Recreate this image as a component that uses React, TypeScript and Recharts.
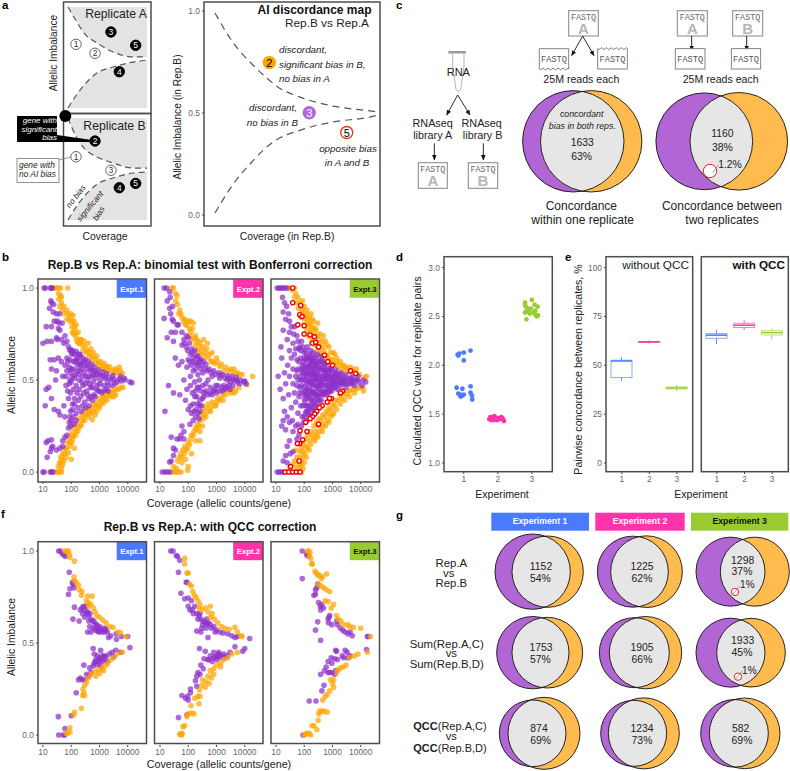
import React from 'react';
import { ScatterChart, Scatter, ComposedChart, Area, Line, Bar, XAxis, YAxis, ReferenceDot } from 'recharts';

const FONT = '"Liberation Sans", Arial, sans-serif';
const PURPLE = '#8E2FC9';
const ORANGE = '#FFA500';
const EXPT_COLORS = ['#4A7BFF', '#FF33AA', '#99CC33'];
const EXPT_LABELS = ['Expt.1', 'Expt.2', 'Expt.3'];
const COVERAGE_TICKS = [10, 100, 1000, 10000];
const IMBALANCE_TICKS = [0, 0.5, 1];

type Pt = number[];

// panel b, coverage / imbalance
const b1Purple: Pt[] = [[11,1],[12,1],[18,1],[20,1],[21,1],[19,.93],[20,.92],[17,.89],[24,.91],[23,.87],[30,.86],[38,.86],[32,.82],[25,.82],[37,.81],[48,.81],[13,.79],[20,.79],[35,.78],[40,.77],[60,.74],[30,.73],[20,.71],[10,.7],[14,.71],[32,.72],[45,.72],[55,.7],[70,.71],[80,.68],[95,.665],[115,.66],[150,.655],[180,.64],[210,.63],[260,.62],[320,.61],[400,.6],[520,.585],[650,.57],[900,.555],[1300,.545],[1800,.535],[3000,.525],[5500,.52],[7500,.51],[14000,.485],[12000,.49],[8000,.5],[6000,.495],[5000,.505],[3500,.48],[2600,.5],[2000,.47],[1500,.52],[1100,.5],[800,.53],[600,.49],[450,.55],[330,.52],[240,.56],[170,.58],[120,.6],[90,.61],[70,.62],[60,.58],[100,.56],[140,.53],[190,.5],[260,.47],[350,.44],[480,.46],[640,.42],[900,.44],[1200,.43],[1700,.45],[850,.47],[600,.53],[400,.58],[280,.6],[200,.55],[110,.52],[85,.48],[120,.45],[160,.43],[220,.41],[300,.38],[420,.4],[560,.39],[130,.4],[110,.37],[170,.35],[230,.33],[150,.32],[120,.3],[95,.33],[80,.4],[75,.44],[65,.47],[90,.5],[70,.55],[50,.52],[45,.6],[35,.62],[30,.55],[25,.61],[18,.61],[20,.56],[28,.5],[13,.45],[16,.46],[20,.4],[12,.36],[25,.34],[35,.33],[40,.31],[55,.36],[60,.3],[85,.27],[100,.28],[80,.24],[70,.2],[60,.19],[50,.17],[15,.17],[20,.175],[13,.16],[22,.14],[20,.13],[18,.11],[30,.12],[40,.13],[50,.14],[14,.08],[10,0],[11,0],[18,0],[20,0],[22,0],
  [90,.66],[130,.64],[160,.62],[190,.6],[230,.59],[300,.58],[350,.565],[500,.56],[600,.55],[750,.545],[1000,.53],[1200,.525],[1600,.51],[2200,.515],[3200,.505],[4200,.49],[2800,.47],[1900,.49],[1400,.47],[1000,.48],[750,.51],[520,.52],[380,.5],[290,.54],[210,.58],[150,.61],[105,.64],[75,.6],[120,.56],[160,.55],[250,.52],[320,.48],[440,.48],[560,.46],[760,.45],[1000,.44],[1400,.44],[2000,.44],[700,.41],[500,.41],[380,.42],[270,.43],[190,.45],[150,.47],[100,.49],[130,.51],[180,.53],[240,.49],[95,.43],[130,.37],[180,.39],[250,.36],[330,.35],[420,.36],[90,.3],[110,.34],[150,.28],[125,.26],[95,.25],[110,.65],[140,.6],[85,.57],[65,.52],[95,.54],[200,.64],[420,.52]];
const b1Orange: Pt[] = [[22,1],[26,1],[30,1],[36,1],[42,1],[75,1],[35,.97],[42,.96],[36,.94],[45,.92],[40,.9],[48,.88],[55,.86],[75,.86],[95,.86],[115,.85],[70,.83],[90,.82],[125,.82],[150,.8],[105,.79],[135,.77],[175,.76],[120,.75],[150,.73],[210,.72],[290,.71],[180,.7],[240,.69],[400,.7],[500,.67],[260,.66],[340,.65],[620,.65],[430,.63],[800,.63],[560,.61],[1100,.6],[760,.59],[1500,.59],[1000,.575],[1700,.565],[2300,.57],[3600,.56],[5000,.57],[2800,.55],[4500,.54],[6500,.535],[6800,.46],[4800,.45],[3300,.445],[2300,.44],[3800,.42],[1800,.425],[2500,.41],[1400,.41],[1800,.39],[1000,.4],[1400,.375],[800,.38],[1000,.35],[620,.365],[800,.33],[480,.345],[700,.31],[560,.285],[380,.32],[300,.335],[420,.3],[240,.31],[300,.28],[180,.29],[230,.26],[150,.26],[180,.24],[120,.24],[145,.22],[100,.21],[120,.195],[88,.185],[105,.16],[75,.16],[90,.14],[130,.13],[60,.125],[80,.105],[100,.07],[50,.1],[65,.08],[42,.08],[55,.06],[38,.05],[50,.04],[35,.03],[45,.02],[25,0],[30,0],[35,0],[40,0],[45,0],
  [45,.95],[55,.9],[70,.88],[85,.84],[110,.82],[130,.79],[110,.76],[140,.75],[160,.71],[200,.7],[230,.72],[310,.68],[380,.66],[460,.65],[520,.63],[680,.62],[900,.6],[1250,.58],[1900,.575],[1350,.56],[2000,.55],[3200,.54],[3900,.55],[5400,.55],[5500,.46],[4000,.45],[2900,.43],[3200,.41],[2200,.42],[1600,.4],[1250,.39],[1100,.37],[880,.36],[700,.35],[600,.33],[520,.32],[440,.33],[350,.31],[280,.3],[240,.28],[210,.25],[170,.22],[140,.2],[110,.18],[90,.16],[68,.13],[58,.1],[48,.07],[42,.05]];

const b2Purple: Pt[] = [[14,1],[17,1],[22,.98],[23,.95],[18,.93],[22,.89],[28,.9],[24,.86],[27,.83],[14,.835],[30,.82],[40,.8],[45,.8],[25,.76],[35,.76],[18,.73],[30,.71],[60,.76],[70,.72],[85,.74],[100,.73],[110,.7],[60,.69],[85,.68],[130,.67],[170,.66],[120,.64],[220,.63],[280,.61],[100,.61],[160,.6],[350,.6],[220,.58],[420,.585],[550,.56],[800,.55],[1200,.54],[1600,.53],[2400,.525],[3500,.52],[5000,.515],[7000,.5],[9500,.49],[11000,.48],[10000,.495],[6500,.48],[4800,.5],[3200,.49],[2400,.5],[1800,.47],[1300,.51],[950,.47],[700,.52],[500,.5],[330,.54],[220,.53],[150,.55],[120,.52],[90,.57],[60,.6],[45,.58],[35,.62],[170,.49],[240,.46],[330,.47],[420,.44],[600,.43],[850,.45],[1200,.44],[1600,.44],[2300,.46],[3000,.45],[180,.44],[140,.43],[120,.47],[90,.45],[70,.5],[200,.41],[260,.39],[350,.41],[300,.36],[210,.37],[260,.33],[190,.34],[150,.37],[130,.32],[180,.3],[100,.34],[80,.39],[50,.42],[30,.43],[20,.47],[15,.33],[60,.25],[70,.22],[55,.2],[50,.18],[25,.19],[40,.18],[70,.18],[30,.13],[35,.12],[30,.09],[25,.06],[22,.055],[12,0],[15,0],[18,0],[22,0],
  [75,.7],[95,.66],[140,.65],[190,.63],[150,.62],[250,.6],[190,.59],[300,.58],[400,.56],[480,.55],[650,.54],[950,.53],[1400,.525],[2000,.51],[2800,.51],[4000,.5],[5500,.49],[3800,.47],[2700,.47],[2000,.45],[1500,.46],[1100,.47],[800,.44],[600,.46],[420,.48],[280,.44],[250,.5],[380,.43],[500,.42],[700,.42],[1000,.43],[280,.56],[180,.56],[130,.58],[115,.6],[240,.61],[320,.4],[250,.36],[220,.32],[160,.33],[120,.36],[170,.41],[210,.46],[240,.29],[150,.28],[115,.26]];
const b2Orange: Pt[] = [[26,1],[30,1],[35,.97],[40,.96],[36,.93],[42,.91],[50,.88],[46,.86],[60,.84],[75,.83],[100,.82],[120,.82],[150,.81],[80,.8],[110,.78],[140,.78],[180,.74],[110,.74],[140,.72],[220,.71],[350,.72],[180,.69],[240,.68],[480,.7],[300,.66],[450,.67],[700,.65],[380,.63],[580,.64],[1000,.62],[750,.6],[1100,.6],[1500,.585],[2100,.57],[3200,.56],[4200,.56],[5500,.54],[8000,.53],[19000,.52],[12000,.475],[6200,.46],[4800,.44],[3200,.43],[4200,.43],[2100,.42],[1500,.41],[1100,.4],[1700,.39],[700,.38],[950,.36],[500,.37],[400,.35],[620,.33],[320,.33],[270,.31],[420,.3],[260,.28],[210,.26],[320,.25],[180,.24],[160,.22],[260,.22],[130,.2],[120,.18],[260,.17],[180,.17],[100,.16],[75,.14],[95,.13],[65,.12],[130,.1],[55,.1],[48,.08],[80,.07],[42,.06],[60,.05],[100,.03],[30,.03],[38,.02],[26,0],[32,0],[38,0],[45,0],[55,0],[95,.01],
  [55,.86],[68,.82],[90,.8],[125,.76],[160,.73],[200,.72],[260,.7],[210,.66],[280,.64],[340,.68],[420,.65],[520,.62],[640,.6],[860,.59],[1300,.575],[1800,.55],[2700,.55],[4000,.54],[6500,.53],[3700,.45],[2700,.44],[1800,.43],[1300,.39],[1000,.38],[820,.36],[600,.35],[480,.33],[380,.31],[330,.29],[240,.25],[200,.23],[150,.2],[110,.15],[85,.12],[72,.1],[58,.08]];

const b3Purple: Pt[] = [[11,1],[13,1],[15,1],[17,1],[20,1],[24,1],[17,.95],[20,.92],[24,.9],[18,.87],[28,.86],[22,.83],[30,.82],[35,.79],[45,.79],[18,.77],[30,.76],[42,.75],[55,.74],[25,.72],[40,.7],[60,.71],[80,.71],[15,.68],[30,.66],[50,.67],[70,.68],[90,.68],[110,.66],[130,.68],[170,.66],[210,.65],[280,.64],[350,.63],[440,.61],[600,.59],[850,.565],[1300,.555],[2000,.54],[3000,.53],[5000,.52],[8000,.52],[12000,.5],[15000,.49],[11000,.47],[8500,.49],[6500,.5],[6000,.47],[4800,.5],[4000,.48],[3200,.51],[3000,.46],[2400,.52],[2300,.49],[1900,.47],[1800,.53],[1500,.45],[1400,.5],[1300,.54],[1100,.47],[1000,.52],[950,.44],[850,.5],[800,.55],[700,.46],[650,.53],[600,.42],[550,.49],[520,.57],[450,.44],[430,.52],[400,.6],[370,.47],[340,.55],[320,.41],[300,.5],[280,.58],[270,.44],[250,.62],[240,.47],[230,.53],[210,.39],[200,.56],[190,.43],[180,.6],[170,.49],[160,.36],[150,.64],[150,.53],[140,.41],[130,.57],[125,.45],[120,.33],[115,.61],[110,.5],[105,.38],[100,.65],[95,.54],[90,.43],[85,.3],[85,.58],[80,.47],[75,.36],[75,.62],[70,.52],[65,.41],[65,.67],[60,.56],[60,.32],[55,.47],[55,.61],[50,.38],[50,.52],[45,.43],[45,.64],[40,.56],[40,.48],[35,.35],[35,.62],[30,.52],[28,.42],[26,.58],[22,.48],[20,.54],[18,.4],[16,.62],[14,.45],[12,.52],[20,.33],[25,.3],[18,.28],[30,.27],[38,.28],[22,.23],[16,.25],[40,.22],[50,.25],[60,.26],[65,.2],[55,.18],[30,.17],[25,.14],[40,.11],[32,.1],[22,.09],[18,.06],[25,.05],[11,0],[13,0],[15,0],[18,0],[500,.47],[700,.5],[900,.48],[1200,.52],[1600,.48],[2100,.51],[350,.49],[260,.5],[180,.54],[125,.52],[90,.5],[130,.4],[170,.44],[220,.43],[280,.4],[380,.43],[520,.43],[720,.43],[1000,.46],[1300,.46],[200,.6],[270,.56],[380,.56],[520,.54],[750,.52],[1000,.54],[160,.58],[110,.56],[85,.54],[70,.46],[110,.42],[150,.46],[200,.47],[300,.46],[450,.5],[600,.52],[130,.36],[170,.39],[230,.37],[300,.38],[400,.39],[100,.46],[140,.49],[210,.51],[280,.53],[360,.6],[480,.59],[640,.56],[900,.56],[1500,.53],[2600,.5],[3600,.5],[5400,.49],[7500,.5],[120,.63],[160,.62],[220,.62],[300,.6],[95,.6],[80,.56],[60,.5],[70,.43],[90,.36],[110,.32],[140,.31],[180,.34],[240,.33],
  [75,.5],[100,.52],[120,.48],[135,.54],[155,.5],[175,.52],[195,.48],[215,.54],[240,.5],[265,.52],[290,.47],[320,.53],[350,.51],[390,.49],[420,.47],[470,.52],[510,.55],[570,.51],[620,.47],[680,.55],[760,.48],[820,.46],[880,.52],[950,.5],[1050,.49],[1150,.5],[1250,.48],[1350,.52],[1600,.51],[1750,.49],[2000,.5],[2200,.48],[2700,.48],[3400,.48],[4400,.51],[5000,.48],[90,.56],[105,.58],[120,.54],[140,.57],[165,.55],[190,.58],[225,.56],[260,.59],[320,.57],[420,.57],[580,.55],[105,.44],[120,.42],[140,.44],[160,.42],[185,.4],[205,.44],[240,.42],[260,.42],[300,.42],[350,.45],[420,.42],[480,.42],[560,.44],[650,.44],[800,.44],[880,.45],[1200,.48],[100,.4],[115,.36],[150,.34],[190,.37],[210,.35],[260,.36],[340,.39],[130,.33],[160,.31],[200,.31],[100,.3],[120,.28],[95,.27],[80,.25],[150,.6],[135,.62],[180,.63],[210,.6],[250,.58],[75,.66],[100,.62],[65,.6],[55,.55]];
const b3Orange: Pt[] = [[26,1],[30,1],[36,.99],[45,1],[50,.97],[60,.95],[45,.95],[55,.92],[85,.93],[62,.89],[90,.88],[120,.86],[175,.86],[75,.84],[105,.83],[130,.83],[210,.82],[95,.8],[150,.81],[300,.81],[125,.77],[190,.79],[240,.78],[140,.74],[210,.75],[360,.75],[480,.74],[180,.71],[340,.72],[560,.71],[240,.69],[420,.68],[750,.68],[300,.66],[500,.66],[1100,.65],[430,.63],[700,.62],[1400,.62],[620,.6],[1000,.61],[1900,.6],[850,.585],[1300,.58],[2500,.58],[1700,.565],[3200,.565],[2400,.555],[5000,.56],[7000,.56],[3800,.545],[6000,.545],[9000,.53],[16000,.52],[14000,.515],[12000,.46],[12500,.44],[7500,.455],[5000,.45],[3500,.44],[6000,.43],[2600,.43],[4000,.41],[1800,.42],[2700,.39],[1300,.39],[1900,.37],[1000,.37],[1400,.34],[750,.35],[1100,.32],[600,.33],[850,.3],[450,.31],[650,.28],[340,.29],[500,.26],[270,.27],[420,.24],[220,.25],[340,.22],[170,.22],[270,.2],[135,.2],[210,.18],[110,.18],[170,.15],[95,.15],[130,.13],[80,.13],[105,.1],[70,.11],[50,.12],[90,.08],[55,.08],[80,.05],[45,.06],[65,.04],[40,.04],[90,.02],[55,.02],[30,.02],[35,0],[60,0],[80,0],
  [72,.92],[100,.9],[80,.87],[125,.88],[105,.85],[155,.84],[190,.83],[115,.8],[170,.78],[140,.8],[165,.76],[260,.77],[190,.73],[290,.74],[230,.71],[440,.71],[280,.69],[330,.7],[620,.69],[380,.65],[540,.64],[850,.65],[640,.63],[1200,.64],[850,.61],[1500,.6],[1100,.59],[2000,.58],[2900,.57],[4200,.57],[9000,.46],[6200,.45],[4200,.44],[3000,.42],[2100,.4],[1600,.39],[1200,.36],[880,.34],[700,.32],[1000,.31],[540,.3],[740,.27],[390,.28],[560,.25],[310,.25],[440,.22],[250,.22],[300,.19],[190,.2],[240,.17],[150,.17],[120,.14],[150,.12],[90,.11],[120,.08],[70,.08],[75,.03],[100,.05]];
const b3Red: Pt[] = [[39,1],[39,.92],[75,.905],[69,.855],[84,.845],[59,.8],[99,.795],[99,.75],[161,.745],[229,.735],[195,.7],[255,.705],[320,.68],[520,.635],[682,.6],[1000,.58],[4360,.55],[6600,.535],[2260,.44],[1920,.43],[920,.4],[780,.4],[650,.38],[430,.36],[345,.35],[278,.33],[236,.315],[195,.3],[161,.29],[113,.27],[320,.26],[125,.22],[71,.225],[88,.175],[69,.155],[57,.155],[66,.06],[33,.03],[21,0],[28,0],[39,0],[52,0],[71,0]];

// panel f
const f1Purple: Pt[] = [[36,1],[42,1],[48,.985],[55,.98],[62,.97],[85,.885],[110,.83],[115,.82],[125,.8],[90,.795],[80,.765],[130,.695],[115,.63],[190,.62],[210,.68],[240,.69],[270,.7],[300,.68],[340,.66],[400,.65],[300,.64],[420,.62],[500,.63],[640,.62],[800,.6],[1000,.59],[1300,.58],[1600,.57],[1900,.56],[2500,.54],[1200,.56],[850,.565],[600,.58],[450,.59],[380,.56],[500,.56],[2100,.53],[3900,.55],[4000,.52],[6000,.535],[10000,.535],[600,.47],[1100,.46],[650,.44],[850,.43],[1300,.43],[1700,.425],[2200,.44],[2800,.45],[3800,.46],[3200,.425],[5500,.45],[12000,.475],[1000,.41],[1400,.41],[1900,.4],[700,.4],[850,.385],[1100,.375],[600,.375],[450,.365],[500,.34],[280,.38],[350,.33],[420,.32],[210,.31],[240,.3],[180,.3],[300,.3],[35,.1],[100,.105],[60,.035],[36,0],[52,0],[58,0],[150,.23],
  [250,.66],[330,.7],[380,.67],[460,.66],[560,.62],[700,.6],[900,.58],[1100,.57],[1500,.56],[1700,.58],[720,.57],[950,.56],[1000,.42],[1500,.43],[1250,.4],[750,.41],[950,.4],[650,.39]];
const f1Orange: Pt[] = [[60,1],[70,1],[80,1],[85,.98],[90,.965],[130,.945],[125,.86],[130,.84],[150,.83],[180,.815],[190,.79],[240,.78],[230,.76],[380,.755],[550,.755],[340,.73],[400,.72],[420,.7],[500,.71],[620,.69],[700,.67],[800,.65],[1000,.64],[1300,.625],[1700,.61],[2300,.59],[3000,.585],[4500,.56],[5500,.555],[9000,.535],[6500,.45],[4200,.44],[3000,.42],[2400,.405],[1900,.385],[1500,.375],[1200,.36],[900,.355],[1400,.35],[700,.345],[1000,.335],[500,.33],[750,.32],[400,.31],[350,.285],[300,.27],[260,.25],[280,.23],[250,.215],[300,.215],[230,.145],[130,.125],[125,.11],[90,.04],[90,.015],[75,.01],[65,.01]];
const f2Purple: Pt[] = [[24,1],[29,1],[38,.975],[42,.97],[50,.95],[45,.885],[85,.83],[90,.83],[55,.77],[75,.74],[100,.745],[130,.73],[100,.7],[115,.68],[140,.68],[170,.7],[200,.66],[240,.65],[280,.63],[340,.62],[400,.61],[470,.6],[600,.6],[800,.59],[1000,.57],[1300,.56],[1700,.555],[2500,.55],[3500,.54],[4500,.53],[5500,.535],[15000,.525],[300,.58],[280,.56],[200,.565],[500,.53],[250,.47],[400,.455],[800,.45],[1200,.44],[1800,.44],[3000,.45],[4500,.48],[10000,.47],[8500,.455],[600,.43],[900,.425],[1300,.42],[1900,.42],[2400,.43],[700,.4],[480,.41],[360,.415],[280,.38],[340,.36],[220,.34],[200,.32],[260,.33],[180,.295],[200,.265],[120,.25],[120,.23],[95,.21],[60,.215],[80,.2],[100,.19],[45,.095],[90,.11],
  [150,.66],[220,.63],[260,.66],[320,.6],[450,.63],[520,.61],[650,.58],[420,.58],[900,.56],[1050,.43],[1500,.43],[1000,.41],[550,.41],[800,.42],[1200,.45]];
const f2Orange: Pt[] = [[75,.96],[75,.93],[90,.88],[100,.88],[110,.82],[130,.81],[145,.78],[165,.76],[190,.75],[220,.73],[260,.71],[240,.69],[300,.68],[400,.69],[600,.7],[500,.67],[700,.66],[620,.64],[850,.63],[1100,.61],[1500,.59],[2000,.58],[2800,.575],[4500,.585],[5500,.56],[7500,.54],[8000,.535],[5500,.45],[3500,.44],[2500,.42],[1800,.41],[1400,.39],[1000,.38],[1400,.37],[800,.36],[600,.35],[800,.33],[500,.32],[650,.31],[320,.3],[420,.29],[550,.28],[300,.27],[400,.26],[250,.245],[220,.21],[260,.21],[170,.2],[240,.17],[125,.16],[130,.12],[100,.115],[160,.115],[90,.1],[75,.05],[65,.045],[60,.01],[55,.005],[50,.005],[60,0]];
const f3Purple: Pt[] = [[85,1],[125,.985],[125,.975],[140,.98],[85,.85],[300,.82],[280,.8],[250,.79],[220,.76],[250,.765],[320,.72],[370,.7],[420,.71],[480,.69],[380,.68],[300,.615],[800,.65],[750,.64],[720,.61],[950,.6],[1400,.62],[1500,.6],[1900,.58],[2300,.57],[2800,.56],[3500,.55],[4200,.56],[5000,.54],[17000,.535],[18500,.535],[250,.57],[380,.515],[700,.63],[1300,.46],[1400,.455],[2800,.46],[3300,.45],[2200,.43],[2500,.42],[900,.42],[1200,.415],[1500,.41],[700,.4],[950,.39],[600,.37],[520,.35],[700,.34],[800,.34],[1000,.34],[1200,.33],[1300,.35],[380,.33],[500,.27],[420,.24],[260,.185],[150,.185],[90,0],[3500,.42],[4200,.43],[16000,.465]];
const f3Orange: Pt[] = [[130,1],[145,1],[160,.99],[150,.97],[170,.96],[185,.93],[190,.93],[240,.89],[270,.88],[300,.87],[330,.87],[620,.875],[400,.85],[450,.86],[310,.82],[400,.81],[480,.8],[600,.79],[800,.78],[700,.725],[550,.73],[1100,.71],[900,.69],[1400,.65],[1600,.63],[2000,.62],[2400,.6],[3500,.6],[4000,.59],[5500,.585],[10000,.58],[22000,.535],[17000,.45],[8000,.44],[6000,.43],[4000,.42],[3000,.38],[2400,.37],[1900,.365],[1600,.355],[1400,.34],[1100,.3],[1000,.28],[1100,.26],[850,.3],[800,.24],[650,.22],[550,.21],[450,.19],[350,.13],[330,.115],[420,.13],[500,.13],[650,.125],[310,.08],[220,.05],[190,.05],[280,.03],[150,.01],[115,.005],[125,.01],[100,0],[170,0]];

// panel d, jittered experiment position / QCC value
const dBlue: Pt[] = [[.84,2.1],[.87,2.12],[.82,2.11],[1,2.13],[1.2,2.15],[1,2.05],[.79,1.77],[.96,1.76],[1.2,1.785],[.84,1.71],[.91,1.69],[1,1.7],[.96,1.69],[.91,1.68],[1.2,1.72],[1.24,1.69],[1.25,1.65],[.89,1.7]];
const dPink: Pt[] = [[1.75,1.45],[1.78,1.47],[1.8,1.44],[1.84,1.46],[1.87,1.44],[1.9,1.47],[1.92,1.45],[1.9,1.48],[1.95,1.46],[1.98,1.44],[2,1.45],[2.03,1.46],[2.08,1.45],[2.1,1.47],[2.13,1.46],[2.15,1.45],[2.18,1.43],[1.97,1.46]];
const dGreen: Pt[] = [[2.8,2.64],[2.8,2.62],[2.8,2.54],[2.82,2.6],[2.84,2.47],[2.86,2.56],[2.9,2.55],[2.94,2.53],[3,2.67],[3.05,2.54],[3.08,2.62],[3.1,2.56],[3.1,2.52],[3.14,2.5],[3.17,2.6],[3.18,2.51],[2.97,2.58],[2.88,2.58]];

// panel e, box statistics per experiment
const boxExperiments = ['1', '2', '3'];
const withoutQ1 = [43.7, 61.7, 37.9];
const withoutMedian = [52.2, 62, 38.4];
const withoutQ3 = [52.6, 62.2, 38.9];
const withoutLow = [42, 61.1, 36.7];
const withoutHigh = [54.3, 62.8, 39.8];
const withQ1 = [63.8, 69.3, 65.5];
const withMedian = [65.4, 70.5, 66.7];
const withQ3 = [66.2, 71.5, 67.7];
const withLow = [60.9, 68, 63.1];
const withHigh = [68.3, 73, 68.8];

// panel a curves
const schemeX = [.057, .15, .25, .386, .568, .795, .955];
const topUpper = [.955, .83, .71, .631, .55, .505, .505];
const topLower = [.045, .16, .26, .36, .414, .459, .477];
const bottomUpper = [.956, .79, .68, .611, .558, .513, .513];
const bottomLower = [.053, .17, .27, .37, .425, .469, .478];
const mapX = [.0625, .165, .278, .358, .415, .545, .733, .943, .99];
const mapUpper = [.99, .845, .735, .67, .63, .578, .534, .51, .505];
const mapLower = [.01, .15, .265, .335, .37, .415, .456, .48, .49];

// x, y, label, filled
const topMarkers: any[][] = [[.148, .619, '1', false], [.364, .538, '2', false], [.545, .73, '3', true], [.826, .61, '5', true], [.64, .372, '4', true]];
const bottomMarkers: any[][] = [[.364, .752, '2', true], [.148, .613, '1', false], [.545, .493, '3', false], [.64, .339, '4', true], [.826, .377, '5', true]];
const mapMarkers: any[][] = [[.371, .747, '2', ORANGE, ORANGE, '#000'], [.598, .501, '3', '#B266DD', '#B266DD', '#fff'], [.811, .404, '5', '#fff', '#F03A17', '#000']];

const toPts = (a: Pt[]) => a.map(([x, y]) => ({ x, y }));

const tickStyle = { fontSize: 8.4, fill: '#666', fontFamily: FONT };
const Box = ({ left, top, width, height, children }: any) => (
  <div style={{ position: 'absolute', left, top, width, height }}>{children}</div>
);

const dot = (r: number, fill: string, opacity: number, stroke?: string) => (p: any) => (
  <circle cx={p.cx} cy={p.cy} r={r} fill={fill} fillOpacity={opacity} stroke={stroke} strokeWidth={stroke ? 1.4 : 0} />
);

const CoveragePanel = ({ left, top, showY, series }: any) => {
  const yw = showY ? 30 : 0;
  return (
    <Box left={left - yw} top={top} width={108.5 + yw} height={225}>
      <ScatterChart width={108.5 + yw} height={225} margin={{ top: 0, right: 0, bottom: 0, left: 0 }}>
        <XAxis dataKey="x" type="number" scale="log" domain={[6.66, 46100]} allowDataOverflow ticks={COVERAGE_TICKS} interval={0}
          tick={tickStyle} tickSize={2} tickMargin={2} height={22} stroke="#444" axisLine={false} />
        <YAxis dataKey="y" type="number" domain={[-0.054, 1.049]} ticks={IMBALANCE_TICKS} interval={0} hide={!showY} width={yw}
          tickFormatter={(v: number) => v.toFixed(1)} tick={tickStyle} tickSize={2} tickMargin={2} stroke="#444" axisLine={false} />
        {series.map((s: any, i: number) => (
          <Scatter key={i} data={toPts(s.data)} fill={s.fill} shape={s.stroke ? dot(2.1, s.fill, 1, s.stroke) : dot(2.8, s.fill, 0.72)} isAnimationActive={false} />
        ))}
      </ScatterChart>
    </Box>
  );
};

const NumberDot = (props: any, label: string, r: number, fill: string, stroke: string, color: string, size: number, sw = 1) => (
  <g>
    <circle cx={props.cx} cy={props.cy} r={r} fill={fill} stroke={stroke} strokeWidth={sw} />
    <text x={props.cx} y={props.cy + size * 0.36} textAnchor="middle" fontSize={size} fontFamily={FONT} fill={color}>{label}</text>
  </g>
);

const Scheme = ({ left, top, width, height, upper, lower, markers }: any) => {
  const data = schemeX.map((x, i) => ({ x, upper: upper[i], lower: lower[i], top: upper[0], bottom: lower[0] }));
  return (
    <Box left={left} top={top} width={width} height={height}>
      <ComposedChart width={width} height={height} data={data} margin={{ top: 0, right: 0, bottom: 0, left: 0 }}>
        <XAxis dataKey="x" type="number" domain={[0, 1]} hide />
        <YAxis type="number" domain={[0, 1]} hide />
        <Area dataKey={(d: any) => [d.upper, d.top]} type="monotone" fill="#E3E3E3" fillOpacity={1} stroke="none" isAnimationActive={false} />
        <Area dataKey={(d: any) => [d.bottom, d.lower]} type="monotone" fill="#E3E3E3" fillOpacity={1} stroke="none" isAnimationActive={false} />
        <Line dataKey="upper" type="monotone" stroke="#555" strokeWidth={1.2} strokeDasharray="6 4" dot={false} isAnimationActive={false} />
        <Line dataKey="lower" type="monotone" stroke="#555" strokeWidth={1.2} strokeDasharray="6 4" dot={false} isAnimationActive={false} />
        {markers.map((m: any[], i: number) => (
          <ReferenceDot key={i} x={m[0]} y={m[1]} ifOverflow="visible"
            shape={(p: any) => NumberDot(p, m[2], 5.2, m[3] ? '#000' : '#fff', m[3] ? '#000' : '#666', m[3] ? '#fff' : '#333', 8.5)} />
        ))}
      </ComposedChart>
    </Box>
  );
};

const DiscordanceMap = () => {
  const data = mapX.map((x, i) => ({ x, upper: mapUpper[i], lower: mapLower[i] }));
  return (
    <Box left={174} top={2} width={206} height={245}>
      <ComposedChart width={206} height={245} data={data} margin={{ top: 0, right: 0, bottom: 0, left: 0 }}>
        <XAxis dataKey="x" type="number" domain={[0, 1]} ticks={[]} height={21} axisLine={false} tickLine={false} />
        <YAxis type="number" domain={[-0.054, 1.044]} ticks={[0, 0.5, 1]} interval={0} width={30} tickFormatter={(v: number) => v.toFixed(1)}
          tick={tickStyle} tickSize={2} tickMargin={2} stroke="#444" axisLine={false} />
        <Line dataKey="upper" type="monotone" stroke="#555" strokeWidth={1.2} strokeDasharray="7 5" dot={false} isAnimationActive={false} />
        <Line dataKey="lower" type="monotone" stroke="#555" strokeWidth={1.2} strokeDasharray="7 5" dot={false} isAnimationActive={false} />
        {mapMarkers.map((m: any[], i: number) => (
          <ReferenceDot key={i} x={m[0]} y={m[1]} ifOverflow="visible"
            shape={(p: any) => NumberDot(p, m[2], 6, m[3], m[4], m[5], 11, 1.4)} />
        ))}
      </ComposedChart>
    </Box>
  );
};

const QccPanel = () => (
  <Box left={414} top={256.7} width={138.3} height={237}>
    <ScatterChart width={138.3} height={237} margin={{ top: 0, right: 0, bottom: 0, left: 0 }}>
      <XAxis dataKey="x" type="number" domain={[.42, 3.6]} ticks={[1, 2, 3]} interval={0} tick={tickStyle} tickSize={2} tickMargin={2} height={22} stroke="#444" axisLine={false} />
      <YAxis dataKey="y" type="number" domain={[.908, 3.108]} ticks={[1, 1.5, 2, 2.5, 3]} interval={0} width={30} tickFormatter={(v: number) => v.toFixed(1)} tick={tickStyle} tickSize={2} tickMargin={2} stroke="#444" axisLine={false} />
      {[dBlue, dPink, dGreen].map((d, i) => (
        <Scatter key={i} data={toPts(d)} fill={EXPT_COLORS[i]} shape={dot(2.4, EXPT_COLORS[i], 1)} isAnimationActive={false} />
      ))}
    </ScatterChart>
  </Box>
);

const BoxShape = (props: any) => {
  const { x, y, width, height, payload, index } = props;
  const color = EXPT_COLORS[index];
  const unit = height / (payload.q3 - payload.q1);
  const cx = x + width / 2;
  return (
    <g>
      <line x1={cx} x2={cx} y1={y - (payload.high - payload.q3) * unit} y2={y + height + (payload.q1 - payload.low) * unit} stroke={color} strokeOpacity={0.8} strokeWidth={1} />
      <rect x={x} y={y} width={width} height={height} fill="#fff" stroke={color} strokeOpacity={0.7} strokeWidth={0.9} />
      <line x1={x} x2={x + width} y1={y + (payload.q3 - payload.median) * unit} y2={y + (payload.q3 - payload.median) * unit} stroke={color} strokeWidth={1.5} />
    </g>
  );
};

const ConcordancePanel = ({ left, width, showY, q1, median, q3, low, high }: any) => {
  const yw = showY ? 30 : 0;
  const data = boxExperiments.map((experiment, i) => ({ experiment, q1: q1[i], median: median[i], q3: q3[i], low: low[i], high: high[i] }));
  return (
    <Box left={left - yw} top={256.7} width={width + yw} height={237}>
      <ComposedChart width={width + yw} height={237} data={data} margin={{ top: 0, right: 0, bottom: 0, left: 0 }}>
        <XAxis dataKey="experiment" padding={{ left: 2, right: 2 }} interval={0} tick={tickStyle} tickSize={2} tickMargin={2} height={22} stroke="#444" axisLine={false} />
        <YAxis type="number" domain={[-4.6, 105.4]} ticks={[0, 25, 50, 75, 100]} interval={0} hide={!showY} width={yw} tick={tickStyle} tickSize={2} tickMargin={2} stroke="#444" axisLine={false} />
        <Bar dataKey={(d: any) => [d.q1, d.q3]} barSize={21} shape={BoxShape} isAnimationActive={false} />
      </ComposedChart>
    </Box>
  );
};

const T = ({ x, y, s = 10, a = 'middle', i, b, fill = '#222', rot, mono, children }: any) => (
  <text x={x} y={y} fontSize={s} textAnchor={a} fontStyle={i ? 'italic' : 'normal'} fontWeight={b ? 'bold' : 'normal'} fill={fill}
    fontFamily={mono ? '"Liberation Mono", monospace' : FONT} transform={rot !== undefined ? `rotate(${rot} ${x} ${y})` : undefined}>{children}</text>
);

const Frame = ({ x1, y1, x2, y2 }: any) => (
  <rect x={x1} y={y1} width={x2 - x1} height={y2 - y1} fill="none" stroke="#4D4D4D" strokeWidth={1.5} />
);

const wave = (x1: number, x2: number, y: number) => {
  let d = `M${x1} ${y}`;
  let up = true;
  for (let x = x1; x < x2 - 0.1; x += 2.5) {
    d += ` q1.25 ${up ? 1.8 : -1.8} 2.5 0`;
    up = !up;
  }
  return d;
};

// zoomed crop coordinates of panel c -> page
const cx = (v: number) => 370 + v / 3;
const cy = (v: number) => v / 3;
const gx = (v: number) => 390 + v / 3;
const gy = (v: number) => 500 + v / 3;

const Fastq = ({ x1, y1, x2, y2, letter, wavy }: any) => {
  const X1 = cx(x1), X2 = cx(x2), Y1 = cy(y1), Y2 = cy(y2), mid = (X1 + X2) / 2;
  return (
    <g>
      {wavy === 'bottom' && <path d={`M${X1} ${Y2} L${X1} ${Y1} L${X2} ${Y1} L${X2} ${Y2}`} fill="none" stroke="#777" strokeWidth={0.9} />}
      {wavy === 'bottom' && <path d={wave(X1, X2, Y2)} fill="none" stroke="#555" strokeWidth={0.8} />}
      {wavy === 'top' && <path d={`M${X1} ${Y1} L${X1} ${Y2} L${X2} ${Y2} L${X2} ${Y1}`} fill="none" stroke="#777" strokeWidth={0.9} />}
      {wavy === 'top' && <path d={wave(X1, X2, Y1)} fill="none" stroke="#555" strokeWidth={0.8} />}
      {!wavy && <rect x={X1} y={Y1} width={X2 - X1} height={Y2 - Y1} fill="#fff" stroke={letter ? '#999' : '#777'} strokeWidth={letter ? 1.2 : 0.9} />}
      {letter ? (
        <>
          <T x={mid} y={Y1 + 9} s={8.4} mono fill="#666">FASTQ</T>
          <T x={mid} y={Y2 - 2.5} s={15} b fill="#B5B5B5">{letter}</T>
        </>
      ) : (
        <T x={mid} y={(Y1 + Y2) / 2 + 2.8} s={8.6} mono fill="#555">FASTQ</T>
      )}
    </g>
  );
};

const Arrow = ({ x1, y1, x2, y2 }: any) => (
  <line x1={cx(x1)} y1={cy(y1)} x2={cx(x2)} y2={cy(y2)} stroke="#111" strokeWidth={0.9} markerEnd="url(#arrowHead)" />
);

const Venn = ({ id, lx, lr, rx, rr, y }: any) => (
  <g>
    <defs><clipPath id={id}><circle cx={lx} cy={y} r={lr} /></clipPath></defs>
    <circle cx={lx} cy={y} r={lr} fill="#B266D6" />
    <circle cx={rx} cy={y} r={rr} fill="#FFBB4D" />
    <circle cx={rx} cy={y} r={rr} fill="#E6E6E6" clipPath={`url(#${id})`} />
    <circle cx={lx} cy={y} r={lr} fill="none" stroke="#111" strokeWidth={0.9} />
    <circle cx={rx} cy={y} r={rr} fill="none" stroke="#111" strokeWidth={0.9} />
  </g>
);

const GVenn = ({ id, l, lens, r, yc, lines, red, pct }: any) => {
  const lx = (l + lens[1]) / 2, rx = (lens[0] + r) / 2;
  return (
    <g>
      <Venn id={id} lx={gx(lx)} lr={(lens[1] - l) / 6} rx={gx(rx)} rr={(r - lens[0]) / 6} y={gy(yc)} />
      {lines.map((t: any[], i: number) => <T key={i} x={gx(t[1])} y={gy(t[2])} s={10.4}>{t[0]}</T>)}
      {red && (
        <g>
          <circle cx={gx(red[0])} cy={gy(red[1])} r={3.7} fill="#fff" stroke="#F02020" strokeWidth={1} />
          <line x1={gx(red[0] - 7)} y1={gy(red[1] + 7)} x2={gx(red[0] + 13)} y2={gy(red[1] - 17)} stroke="#777" strokeWidth={0.7} />
          <T x={gx(pct[0])} y={gy(pct[1])} s={10}>1%</T>
        </g>
      )}
    </g>
  );
};

const Overlay = () => (
  <svg width={790} height={771} style={{ position: 'absolute', left: 0, top: 0, pointerEvents: 'none' }}>
    <defs>
      <marker id="arrowHead" markerWidth="7" markerHeight="7" refX="5.5" refY="2.5" orient="auto">
        <path d="M0 0 L6 2.5 L0 5 Z" fill="#111" />
      </marker>
    </defs>

    {/* panel letters */}
    <T x={2} y={9} s={11.5} b a="start" fill="#000">a</T>
    <T x={2} y={261} s={11.5} b a="start" fill="#000">b</T>
    <T x={396} y={9} s={11.5} b a="start" fill="#000">c</T>
    <T x={396} y={261} s={11.5} b a="start" fill="#000">d</T>
    <T x={565} y={261} s={11.5} b a="start" fill="#000">e</T>
    <T x={1} y={518} s={11.5} b a="start" fill="#000">f</T>
    <T x={396} y={519} s={11.5} b a="start" fill="#000">g</T>

    {/* panel a */}
    <Frame x1={63.5} y1={2} x2={151} y2={113.5} />
    <Frame x1={63.5} y1={113.5} x2={151} y2={226} />
    <Frame x1={204} y1={2} x2={380} y2={226} />
    <T x={116} y={18} s={12.2}>Replicate A</T>
    <T x={114.5} y={130} s={12.2}>Replicate B</T>
    <T x={57} y={53} s={10.2} rot={-90}>Allelic Imbalance</T>
    <T x={105} y={240} s={10.4}>Coverage</T>
    <circle cx={65.3} cy={116} r={6} fill="#000" />
    <path d="M17 116 L57 116 L57 135 L92 140 L92 142 L17 142 Z" fill="#000" />
    <T x={57} y={123} s={8} i a="end" fill="#fff">gene with</T>
    <T x={57} y={131.6} s={8} i a="end" fill="#fff">significant</T>
    <T x={57} y={140} s={8} i a="end" fill="#fff">bias</T>
    <path d="M59 160 L71 157" stroke="#777" strokeWidth={0.8} fill="none" />
    <rect x={17} y={158.5} width={42} height={24} fill="#fff" stroke="#777" strokeWidth={0.8} />
    <T x={19} y={167.5} s={8.4} i a="start">gene with</T>
    <T x={19} y={177} s={8.4} i a="start">no AI bias</T>
    <T x={78} y={198} s={8.2} i rot={-52}>no bias</T>
    <T x={92} y={208} s={8.2} i rot={-50}>significant</T>
    <T x={101} y={215} s={8.2} i rot={-58}>bias</T>

    <T x={314.5} y={14} s={12} b fill="#111">AI discordance map</T>
    <T x={327} y={26.5} s={11.8}>Rep.B vs Rep.A</T>
    <T x={181} y={117} s={10.2} rot={-90}>Allelic Imbalance (in Rep.B)</T>
    <T x={287} y={240} s={10.4}>Coverage (in Rep.B)</T>
    <T x={279} y={53} s={9.8} i a="start">discordant,</T>
    <T x={279} y={67.5} s={9.8} i a="start">significant bias in B,</T>
    <T x={279} y={81.7} s={9.8} i a="start">no bias in A</T>
    <T x={297} y={111} s={9.8} i a="end">discordant,</T>
    <T x={298} y={125.7} s={9.8} i a="end">no bias in B</T>
    <T x={348} y={151.7} s={9.8} i>opposite bias</T>
    <T x={347} y={165.7} s={9.8} i>in A and B</T>

    {/* panel c */}
    <path d={`M${cx(248)} ${cy(160)} L${cx(248)} ${cy(200)} L${cx(258)} ${cy(268)} Q${cx(265)} ${cy(280)} ${cx(272)} ${cy(268)} L${cx(282)} ${cy(200)} L${cx(282)} ${cy(160)}`} fill="none" stroke="#aaa" strokeWidth={0.9} />
    <rect x={cx(235)} y={cy(153)} width={17.5} height={2.5} fill="#999" />
    <T x={cx(265)} y={cy(228)} s={11}>RNA</T>
    <Arrow x1={263} y1={285} x2={230} y2={345} />
    <Arrow x1={263} y1={285} x2={300} y2={345} />
    <T x={cx(188)} y={cy(380)} s={10.8}>RNAseq</T>
    <T x={cx(188)} y={cy(418)} s={10.8}>library A</T>
    <T x={cx(335)} y={cy(380)} s={10.8}>RNAseq</T>
    <T x={cx(338)} y={cy(418)} s={10.8}>library B</T>
    <Arrow x1={193} y1={430} x2={193} y2={480} />
    <Arrow x1={340} y1={430} x2={340} y2={480} />
    <Fastq x1={145} y1={488} x2={232} y2={565} letter="A" />
    <Fastq x1={295} y1={488} x2={383} y2={565} letter="B" />
    <Fastq x1={596} y1={32} x2={685} y2={108} letter="A" />
    <Arrow x1={638} y1={108} x2={605} y2={167} />
    <Arrow x1={638} y1={108} x2={672} y2={167} />
    <Fastq x1={508} y1={146} x2={596} y2={207} wavy="bottom" />
    <Fastq x1={683} y1={146} x2={772} y2={207} wavy="top" />
    <T x={cx(634)} y={cy(249)} s={10.6}>25M reads each</T>
    <Fastq x1={922} y1={32} x2={1012} y2={108} letter="A" />
    <Fastq x1={1088} y1={32} x2={1178} y2={108} letter="B" />
    <Arrow x1={965} y1={108} x2={965} y2={152} />
    <Arrow x1={1130} y1={108} x2={1130} y2={152} />
    <Fastq x1={916} y1={146} x2={1005} y2={207} />
    <Fastq x1={1084} y1={146} x2={1172} y2={207} />
    <T x={cx(1052)} y={cy(249)} s={10.6}>25M reads each</T>
    <Venn id="vc1" lx={573.3} lr={50.7} rx={591.2} rr={50.7} y={141.3} />
    <T x={cx(635)} y={cy(350)} s={8.8} i>concordant</T>
    <T x={cx(637)} y={cy(388)} s={8.8} i>bias in both reps.</T>
    <T x={cx(637)} y={cy(438)} s={10.4}>1633</T>
    <T x={cx(635)} y={cy(480)} s={10.4}>63%</T>
    <Venn id="vc2" lx={704.3} lr={48.4} rx={738.8} rr={48.8} y={141.3} />
    <T x={cx(1057)} y={cy(411)} s={10.4}>1160</T>
    <T x={cx(1057)} y={cy(452)} s={10.4}>38%</T>
    <circle cx={710} cy={171} r={6.7} fill="#fff" stroke="#F02020" strokeWidth={1} />
    <line x1={cx(1028)} y1={cy(518)} x2={cx(1045)} y2={cy(495)} stroke="#777" strokeWidth={0.7} />
    <T x={cx(1080)} y={cy(503)} s={10.4}>1.2%</T>
    <T x={cx(634)} y={cy(630)} s={12}>Concordance</T>
    <T x={cx(638)} y={cy(673)} s={12}>within one replicate</T>
    <T x={cx(1056)} y={cy(630)} s={12}>Concordance between</T>
    <T x={cx(1056)} y={cy(673)} s={12}>two replicates</T>

    {/* panel b */}
    <T x={210} y={269} s={12} b fill="#111">Rep.B vs Rep.A: binomial test with Bonferroni correction</T>
    {[38, 154.5, 271].map((l, i) => (
      <g key={i}>
        <rect x={l + 78.7} y={279.3} width={30} height={18.5} fill={EXPT_COLORS[i]} />
        <T x={l + 94} y={291.5} s={7.8} b fill={i === 2 ? '#111' : '#fff'}>{EXPT_LABELS[i]}</T>
        <Frame x1={l} y1={279} x2={l + 108.5} y2={482} />
      </g>
    ))}
    <T x={15} y={375} s={10.4} rot={-90}>Allelic Imbalance</T>
    <T x={219} y={507} s={10.7}>Coverage (allelic counts/gene)</T>

    {/* panel f */}
    <T x={210} y={531} s={12} b fill="#111">Rep.B vs Rep.A: with QCC correction</T>
    {[38, 154.5, 271].map((l, i) => (
      <g key={i}>
        <rect x={l + 78.7} y={541.7} width={30} height={18.5} fill={EXPT_COLORS[i]} />
        <T x={l + 94} y={554} s={7.8} b fill={i === 2 ? '#111' : '#fff'}>{EXPT_LABELS[i]}</T>
        <Frame x1={l} y1={541.7} x2={l + 108.5} y2={743.5} />
      </g>
    ))}
    <T x={15} y={637} s={10.4} rot={-90}>Allelic Imbalance</T>
    <T x={219} y={768} s={10.7}>Coverage (allelic counts/gene)</T>

    {/* panels d, e */}
    <Frame x1={444} y1={256.7} x2={552.3} y2={471.7} />
    <T x={421} y={371} s={10.6} rot={-90}>Calculated QCC value for replicate pairs</T>
    <T x={502} y={498} s={10.6}>Experiment</T>
    <Frame x1={606} y1={256.7} x2={692.7} y2={471.7} />
    <Frame x1={701.3} y1={256.7} x2={788.3} y2={471.7} />
    <T x={582} y={369.5} s={10.6} rot={-90}>Pairwise concordance between replicates, %</T>
    <T x={701} y={498} s={10.6}>Experiment</T>
    <T x={689} y={269} s={11.8} a="end">without QCC</T>
    <T x={785} y={269} s={11.7} a="end" b fill="#111">with QCC</T>

    {/* panel g */}
    <rect x={491.3} y={512.7} width={97.7} height={18} fill={EXPT_COLORS[0]} />
    <rect x={595.3} y={512.7} width={89.4} height={18} fill={EXPT_COLORS[1]} />
    <rect x={691} y={512.7} width={97.3} height={18} fill={EXPT_COLORS[2]} />
    <T x={gx(450)} y={gy(72)} s={8.7} b fill="#fff">Experiment 1</T>
    <T x={gx(750)} y={gy(72)} s={8.7} b fill="#fff">Experiment 2</T>
    <T x={gx(1049)} y={gy(72)} s={8.7} b fill="#111">Experiment 3</T>

    <T x={gx(184)} y={gy(200)} s={11.4}>Rep.A</T>
    <T x={gx(176)} y={gy(230)} s={11.4}>vs</T>
    <T x={gx(184)} y={gy(260)} s={11.4}>Rep.B</T>
    <T x={gx(170)} y={gy(443)} s={11.4}>Sum(Rep.A,C)</T>
    <T x={gx(184)} y={gy(472)} s={11.4}>vs</T>
    <T x={gx(170)} y={gy(503)} s={11.4}>Sum(Rep.B,D)</T>
    <T x={gx(180)} y={gy(690)} s={11}><tspan fontWeight="bold">QCC</tspan>(Rep.A,C)</T>
    <T x={gx(184)} y={gy(720)} s={11}>vs</T>
    <T x={gx(180)} y={gy(755)} s={11}><tspan fontWeight="bold">QCC</tspan>(Rep.B,D)</T>

    <GVenn id="g11" l={315} lens={[366, 541]} r={580} yc={215} lines={[['1152', 453, 210], ['54%', 451, 246]]} />
    <GVenn id="g12" l={622} lens={[662, 835]} r={877} yc={215} lines={[['1225', 756, 210], ['62%', 756, 246]]} />
    <GVenn id="g13" l={918} lens={[991, 1125]} r={1198} yc={215} lines={[['1298', 1058, 191], ['37%', 1056, 226]]} red={[1035, 276]} pct={[1072, 265]} />
    <GVenn id="g21" l={320} lens={[366, 537]} r={578} yc={458} lines={[['1753', 453, 452], ['57%', 451, 488]]} />
    <GVenn id="g22" l={628} lens={[658, 838]} r={875} yc={458} lines={[['1905', 756, 452], ['66%', 756, 488]]} />
    <GVenn id="g23" l={918} lens={[980, 1125]} r={1186} yc={458} lines={[['1933', 1058, 433], ['45%', 1056, 469]]} red={[1044, 530]} pct={[1078, 522]} />
    <GVenn id="g31" l={328} lens={[354, 528]} r={570} yc={700} lines={[['874', 447, 695], ['69%', 452, 731]]} />
    <GVenn id="g32" l={632} lens={[655, 830]} r={868} yc={700} lines={[['1234', 756, 695], ['73%', 756, 731]]} />
    <GVenn id="g33" l={932} lens={[958, 1135]} r={1170} yc={700} lines={[['582', 1052, 695], ['69%', 1056, 731]]} />
  </svg>
);

export default function App() {
  return (
    <div style={{ position: 'absolute', left: 0, top: 0, width: 790, height: 771, background: '#fff', overflow: 'hidden', fontFamily: FONT }}>
      <Scheme left={63} top={2} width={88} height={111} upper={topUpper} lower={topLower} markers={topMarkers} />
      <Scheme left={63} top={113} width={88} height={113} upper={bottomUpper} lower={bottomLower} markers={bottomMarkers} />
      <DiscordanceMap />

      <CoveragePanel left={38} top={279} showY series={[{ data: b1Orange, fill: ORANGE }, { data: b1Purple, fill: PURPLE }]} />
      <CoveragePanel left={154.5} top={279} series={[{ data: b2Orange, fill: ORANGE }, { data: b2Purple, fill: PURPLE }]} />
      <CoveragePanel left={271} top={279} series={[{ data: b3Orange, fill: ORANGE }, { data: b3Purple, fill: PURPLE }, { data: b3Red, fill: '#fff', stroke: '#F00000' }]} />

      <CoveragePanel left={38} top={541.7} showY series={[{ data: f1Purple, fill: PURPLE }, { data: f1Orange, fill: ORANGE }]} />
      <CoveragePanel left={154.5} top={541.7} series={[{ data: f2Purple, fill: PURPLE }, { data: f2Orange, fill: ORANGE }]} />
      <CoveragePanel left={271} top={541.7} series={[{ data: f3Purple, fill: PURPLE }, { data: f3Orange, fill: ORANGE }]} />

      <QccPanel />
      <ConcordancePanel left={606} width={86.7} showY q1={withoutQ1} median={withoutMedian} q3={withoutQ3} low={withoutLow} high={withoutHigh} />
      <ConcordancePanel left={701.3} width={87} q1={withQ1} median={withMedian} q3={withQ3} low={withLow} high={withHigh} />

      <Overlay />
    </div>
  );
}
